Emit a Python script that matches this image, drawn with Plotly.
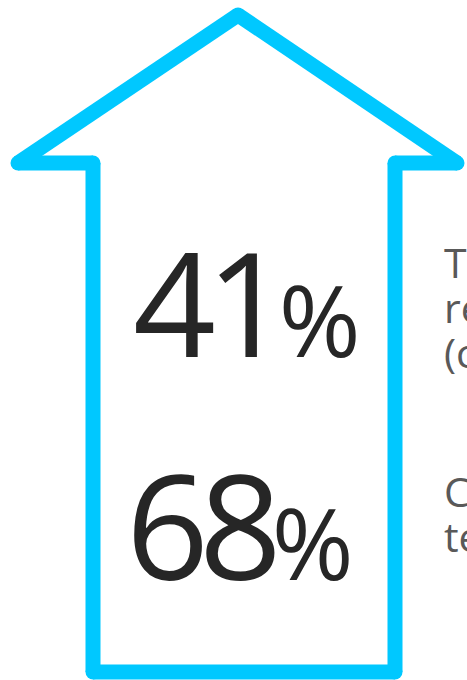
import plotly.graph_objects as go

# ---- data ----
percent_values = [41, 68]
side_text_lines = [
    ["Time savings in", "research tasks", "(compared to 2019)"],
    ["Customer", "teams"],
]

# decorative arrow outline vertices (pixel space of the 467x680 canvas)
arrow_x = [238, 457, 395, 395, 93, 93, 18, 238]
arrow_y = [15, 163, 163, 672, 672, 163, 163, 15]

ARROW_COLOR = "#00C8FF"
NUM_COLOR = "#262626"
TEXT_COLOR = "#595959"
W, H = 467, 680
LW = 15

# build segments separately (butt caps) and add round vertex dots -> round joins
seg_x, seg_y = [], []
for i in range(len(arrow_x) - 1):
    seg_x += [arrow_x[i], arrow_x[i + 1], None]
    seg_y += [arrow_y[i], arrow_y[i + 1], None]

fig = go.Figure()
fig.add_trace(go.Scatter(x=seg_x, y=seg_y, mode="lines",
                         line=dict(color=ARROW_COLOR, width=LW),
                         connectgaps=False, hoverinfo="skip"))
fig.add_trace(go.Scatter(x=arrow_x[:-1], y=arrow_y[:-1], mode="markers",
                         marker=dict(color=ARROW_COLOR, size=LW, line=dict(width=0)),
                         hoverinfo="skip"))

num_font = "Open Sans, Segoe UI, sans-serif"
num_pos = [(131, 300), (124, 523)]
for val, (x, y) in zip(percent_values, num_pos):
    fig.add_annotation(
        x=x, y=y, xref="x", yref="y", xanchor="left", yanchor="middle",
        text="<span style='letter-spacing:-10px'>" + str(val) + "</span>"
             "<span style='font-size:99px'>%</span>",
        showarrow=False, font=dict(family=num_font, size=145, color=NUM_COLOR),
    )

line_centers = [[262, 307, 352], [491, 536]]
for lines, ys in zip(side_text_lines, line_centers):
    for t, y in zip(lines, ys):
        fig.add_annotation(
            x=442, y=y, xref="x", yref="y", xanchor="left", yanchor="middle",
            text=t, showarrow=False,
            font=dict(family=num_font, size=41, color=TEXT_COLOR),
        )

fig.update_xaxes(range=[0, W], visible=False, fixedrange=True)
fig.update_yaxes(range=[H, 0], visible=False, fixedrange=True)
fig.update_layout(width=W, height=H, margin=dict(l=0, r=0, t=0, b=0),
                  paper_bgcolor="white", plot_bgcolor="white", showlegend=False)

fig.write_html("out.html", config={"displayModeBar": False, "staticPlot": True},
               post_script="document.body.style.margin='0';document.body.style.overflow='hidden';")
